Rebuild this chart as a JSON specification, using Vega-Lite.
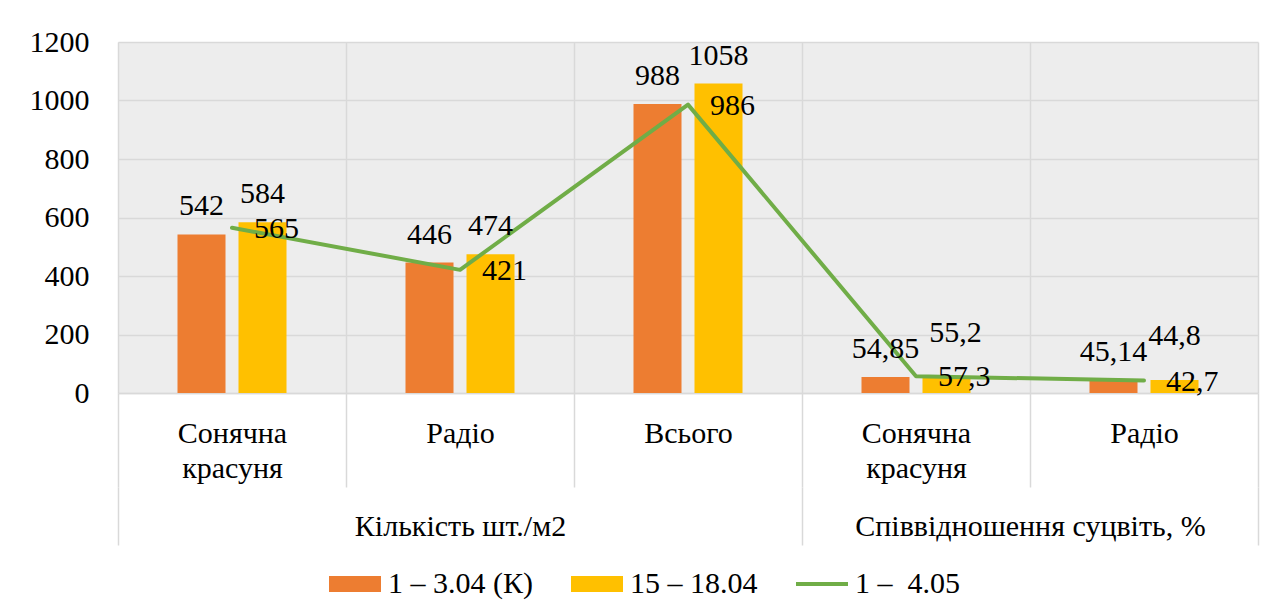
{
  "$schema": "https://vega.github.io/schema/vega-lite/v6.json",
  "width": 1140,
  "height": 351,
  "padding": {"left": 29, "top": 27, "right": 10, "bottom": 10},
  "background": "white",
  "datasets": {
    "bars": [
      {"idx": 1, "series": "1 – 3.04 (К)", "value": 542, "label": "542"},
      {"idx": 1, "series": "15 – 18.04", "value": 584, "label": "584"},
      {"idx": 2, "series": "1 – 3.04 (К)", "value": 446, "label": "446"},
      {"idx": 2, "series": "15 – 18.04", "value": 474, "label": "474"},
      {"idx": 3, "series": "1 – 3.04 (К)", "value": 988, "label": "988"},
      {"idx": 3, "series": "15 – 18.04", "value": 1058, "label": "1058"},
      {"idx": 4, "series": "1 – 3.04 (К)", "value": 54.85, "label": "54,85"},
      {"idx": 4, "series": "15 – 18.04", "value": 55.2, "label": "55,2"},
      {"idx": 5, "series": "1 – 3.04 (К)", "value": 45.14, "label": "45,14"},
      {"idx": 5, "series": "15 – 18.04", "value": 44.8, "label": "44,8"}
    ],
    "line": [
      {"idx": 1, "value": 565, "label": "565"},
      {"idx": 2, "value": 421, "label": "421"},
      {"idx": 3, "value": 986, "label": "986"},
      {"idx": 4, "value": 57.3, "label": "57,3"},
      {"idx": 5, "value": 42.7, "label": "42,7"}
    ]
  },
  "config": {
    "view": {"fill": "#ededed", "stroke": null},
    "font": "Liberation Serif, Liberation Sans",
    "axisY": {
      "title": null, "domain": false, "ticks": false, "grid": true,
      "gridColor": "#d9d9d9", "gridWidth": 1.5, "format": "d",
      "labelFontSize": 30, "labelColor": "black", "labelPadding": 29
    }
  },
  "resolve": {"axis": {"x": "independent"}},
  "layer": [
    {
      "data": {"name": "bars"},
      "mark": {"type": "bar"},
      "encoding": {
        "x": {
          "field": "idx", "type": "ordinal",
          "scale": {"paddingInner": 0, "paddingOuter": 0},
          "axis": {
            "title": null, "orient": "bottom", "tickBand": "extent",
            "ticks": true, "tickSize": 94, "tickColor": "#d9d9d9", "tickWidth": 1.5,
            "domain": true, "domainColor": "#d9d9d9", "domainWidth": 1.5,
            "grid": true, "gridColor": "#d9d9d9", "gridWidth": 1.5,
            "labelExpr": "datum.value == 1 || datum.value == 4 ? ['Сонячна', 'красуня'] : datum.value == 2 || datum.value == 5 ? 'Радіо' : datum.value == 3 ? 'Всього' : ''",
            "labelFontSize": 30, "labelColor": "black",
            "labelLineHeight": 35, "labelPadding": -69, "labelAngle": 0,
            "labelBaseline": "top", "labelLimit": 1000
          }
        },
        "xOffset": {
          "field": "series", "type": "nominal", "sort": null,
          "scale": {"paddingInner": 0.2131, "paddingOuter": 0.9754}
        },
        "y": {
          "field": "value", "type": "quantitative",
          "scale": {"domain": [0, 1200], "nice": false},
          "axis": {"title": null, "values": [0, 200, 400, 600, 800, 1000, 1200]}
        },
        "color": {
          "field": "series", "type": "nominal",
          "scale": {
            "domain": ["1 – 3.04 (К)", "15 – 18.04", "1 –\u00a0 4.05"],
            "range": ["#ED7D31", "#FFC000", "#70AD47"]
          },
          "legend": {
            "title": null, "orient": "none", "legendX": 211, "legendY": 516,
            "direction": "horizontal",
            "labelFontSize": 30, "labelColor": "black",
            "labelLimit": 1000, "labelOffset": 7, "columnPadding": 38,
            "symbolType": "M-1,-0.3077L1,-0.3077L1,0.3077L-1,0.3077Z",
            "symbolSize": 2704, "symbolStrokeWidth": 0,
            "encode": {
              "symbols": {
                "update": {
                  "shape": {"signal": "datum.value === '1 –\u00a0 4.05' ? 'M-1,-0.077L1,-0.077L1,0.077L-1,0.077Z' : 'M-1,-0.3077L1,-0.3077L1,0.3077L-1,0.3077Z'"}
                }
              }
            }
          }
        }
      }
    },
    {
      "data": {"name": "line"},
      "mark": {"type": "line", "color": "#70AD47", "strokeWidth": 4, "strokeJoin": "round", "strokeCap": "round"},
      "encoding": {
        "x": {
          "field": "idx", "type": "ordinal",
          "scale": {"paddingInner": 0, "paddingOuter": 0},
          "axis": {
            "title": null, "orient": "bottom", "offset": 94, "tickBand": "extent",
            "ticks": true, "tickSize": 58, "tickColor": "#d9d9d9", "tickWidth": 1.5,
            "tickOpacity": {"condition": {"test": "datum.index < 0 || datum.value == 3 || datum.value == 5", "value": 1}, "value": 0},
            "domain": false, "grid": false,
            "labelExpr": "datum.value == 2 ? 'Кількість шт./м2' : datum.value == 4 ? 'Співвідношення суцвіть, %' : ''",
            "labelOffset": {"condition": {"test": "datum.value == 4", "value": 114}, "value": 0},
            "labelFontSize": 30, "labelColor": "black",
            "labelPadding": -34, "labelAngle": 0, "labelBaseline": "top", "labelLimit": 1000
          }
        },
        "y": {
          "field": "value", "type": "quantitative",
          "axis": {"title": null, "values": [0, 200, 400, 600, 800, 1000, 1200]}
        }
      }
    },
    {
      "data": {"name": "bars"},
      "mark": {
        "type": "text", "fontSize": 30, "baseline": "alphabetic", "align": "center", "color": "black",
        "dy": {"expr": "datum.idx >= 4 && datum.series == '15 – 18.04' ? -35 : -19"},
        "dx": {"expr": "datum.idx == 4 && datum.series == '15 – 18.04' ? 9 : 0"}
      },
      "encoding": {
        "x": {"field": "idx", "type": "ordinal", "scale": {"paddingInner": 0, "paddingOuter": 0}, "axis": null},
        "xOffset": {"field": "series", "type": "nominal", "sort": null},
        "y": {
          "field": "value", "type": "quantitative",
          "axis": {"title": null, "values": [0, 200, 400, 600, 800, 1000, 1200]}
        },
        "text": {"field": "label"}
      }
    },
    {
      "data": {"name": "line"},
      "mark": {"type": "text", "fontSize": 30, "baseline": "alphabetic", "align": "left", "dx": 22, "dy": 10, "color": "black"},
      "encoding": {
        "x": {"field": "idx", "type": "ordinal", "scale": {"paddingInner": 0, "paddingOuter": 0}, "axis": null},
        "y": {
          "field": "value", "type": "quantitative",
          "axis": {"title": null, "values": [0, 200, 400, 600, 800, 1000, 1200]}
        },
        "text": {"field": "label"}
      }
    }
  ]
}
